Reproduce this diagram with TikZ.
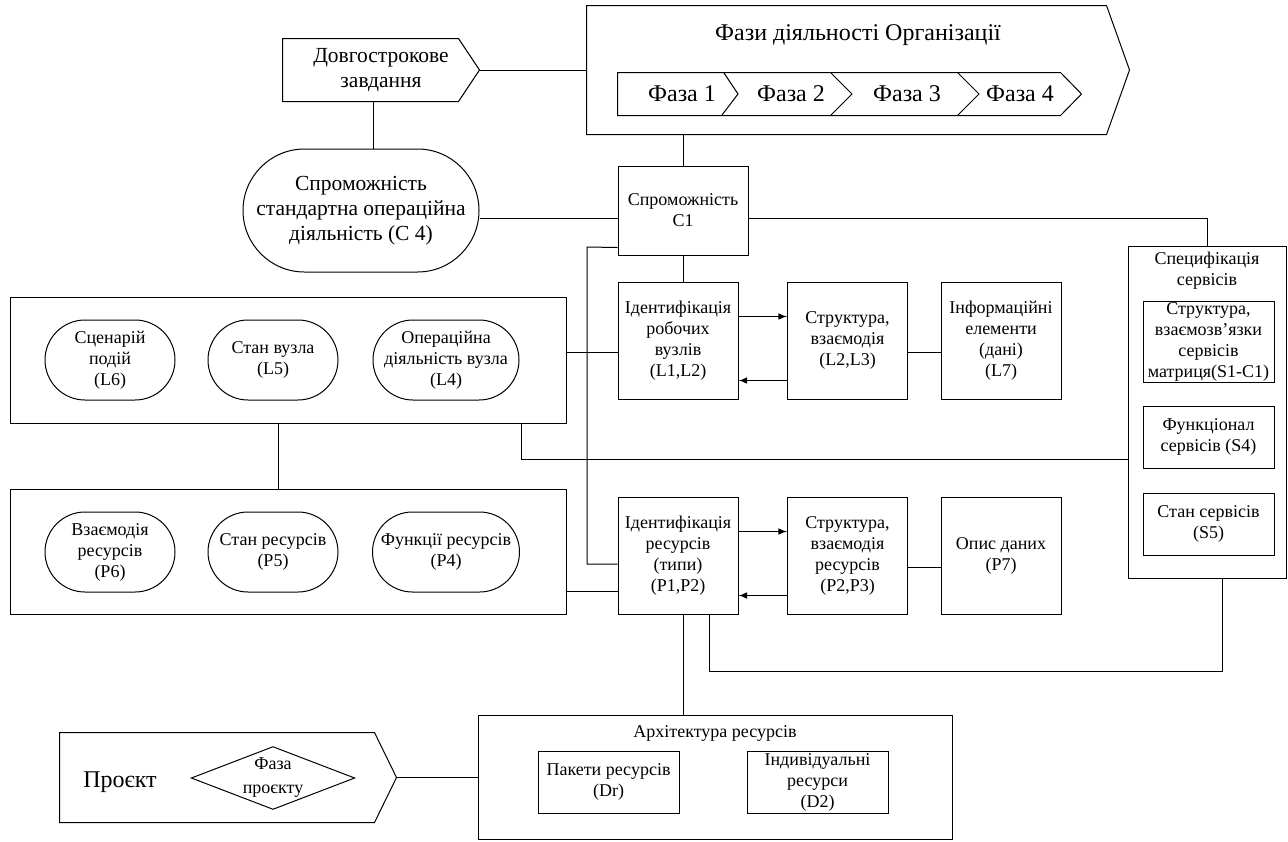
\documentclass[tikz,border=0pt]{standalone}
\usepackage{fontspec}
\setmainfont{Liberation Serif}
\usetikzlibrary{shapes.geometric}

\begin{document}
\begin{tikzpicture}
		[x=0.5pt,y=-0.5pt,line width=0.5pt,>=latex,
		%Styles
		box/.style={draw,rectangle,align=center,inner sep=1pt,font=\fontsize{9}{10.5}\selectfont},
		group box/.style={draw,rectangle,inner sep=0pt},
		pill/.style={draw,rectangle,rounded corners=20pt,minimum width=65pt,minimum height=40pt,align=center,inner sep=1pt,font=\fontsize{9}{10.5}\selectfont},
		big text/.style={inner sep=0pt,font=\fontsize{12}{14}\selectfont},
		mid text/.style={align=center,font=\fontsize{10.75}{12.5}\selectfont},
		blank/.style={inner sep=0pt}
		]
		\useasboundingbox (0,0) rectangle (1288,841);

		%Top: task, organisation phases
		\node[mid text,blank,minimum width=98pt,minimum height=31pt] (task) at (381,70) {Довгострокове\\завдання};
		\draw (task.north west) -- ([xshift=-10.5pt]task.north east) -- (task.east)
			-- ([xshift=-10.5pt]task.south east) -- (task.south west) -- cycle;

		\node[blank,minimum width=271pt,minimum height=64pt] (org) at (858,70) {};
		\draw (org.north west) -- ([xshift=-11.5pt]org.north east) -- (org.east)
			-- ([xshift=-11.5pt]org.south east) -- (org.south west) -- cycle;
		\node[big text] (title) at (858,35) {Фази діяльності Організації};

		\node[blank,minimum width=231.5pt,minimum height=21pt] (phases) at (849.5,94) {};
		\draw (phases.north west) -- ([xshift=-10.5pt]phases.north east) -- (phases.east)
			-- ([xshift=-10.5pt]phases.south east) -- (phases.south west) -- cycle;
		\draw (724,73) -- (738,94) -- (722,115);
		\draw (831,73) -- (852,94) -- (831,115);
		\draw (958,73) -- (979,94) -- (958,115);
		\node[big text] (f1) at (682,94) {Фаза 1};
		\node[big text] (f2) at (791,94) {Фаза 2};
		\node[big text] (f3) at (907,94) {Фаза 3};
		\node[big text] (f4) at (1020,94) {Фаза 4};

		%Capabilities
		\node[draw,mid text,rounded corners=30.75pt,minimum width=118pt,minimum height=61.5pt] (c4) at (361,210.5) {Спроможність\\стандартна операційна\\діяльність (С 4)};
		\node[box,minimum width=65pt,minimum height=44.5pt] (c1) at (683,210.5) {Спроможність\\C1};

		%Nodes (L)
		\node[group box,minimum width=278pt,minimum height=63pt] (lbox) at (288,360) {};
		\node[pill] (l6) at (110,360) {Сценарій\\подій\\(L6)};
		\node[pill] (l5) at (273,360) {Стан вузла\\(L5)};
		\node[pill,minimum width=73pt] (l4) at (446,360) {Операційна\\діяльність вузла\\(L4)};

		\node[box,minimum width=60pt,minimum height=58.5pt] (l1) at (678,340.5) {Ідентифікація\\робочих\\вузлів\\(L1,L2)};
		\node[box,minimum width=60pt,minimum height=58.5pt] (l23) at (847.5,340.5) {Структура,\\взаємодія\\(L2,L3)};
		\node[box,minimum width=60pt,minimum height=58.5pt] (l7) at (1001,340.5) {Інформаційні\\елементи\\(дані)\\(L7)};

		%Resources (P)
		\node[group box,minimum width=278pt,minimum height=62.5pt] (pbox) at (288,551.5) {};
		\node[pill] (p6) at (110,552) {Взаємодія\\ресурсів\\(P6)};
		\node[pill] (p5) at (273,552) {Стан ресурсів\\(P5)};
		\node[pill,minimum width=73.5pt] (p4) at (446,552) {Функції ресурсів\\(P4)};

		\node[box,minimum width=60pt,minimum height=58.5pt] (p1) at (678,555.5) {Ідентифікація\\ресурсів\\(типи)\\(P1,P2)};
		\node[box,minimum width=60pt,minimum height=58.5pt] (p23) at (847.5,555.5) {Структура,\\взаємодія\\ресурсів\\(P2,P3)};
		\node[box,minimum width=60pt,minimum height=58.5pt] (p7) at (1001,555.5) {Опис даних\\(P7)};

		%Services
		\node[group box,minimum width=79pt,minimum height=166pt] (spec) at (1207,412) {};
		\node[box,draw=none] (spect) at (1207,271) {Специфікація\\сервісів};
		\node[box,inner sep=0pt,minimum width=65.5pt,minimum height=40.5pt] (s1) at (1208.5,341.5) {Структура,\\взаємозв'язки\\сервісів\\матриця(S1-C1)};
		\node[box,minimum width=65.5pt,minimum height=31pt] (s4) at (1208.5,437) {Функціонал\\сервісів (S4)};
		\node[box,minimum width=65.5pt,minimum height=31pt] (s5) at (1208.5,524) {Стан сервісів\\(S5)};

		%Architecture, project
		\node[group box,minimum width=237pt,minimum height=62pt] (arch) at (715,777) {};
		\node[box,draw=none] (archt) at (715,733) {Архітектура ресурсів};
		\node[box,minimum width=70.5pt,minimum height=31pt] (dr) at (608.5,782) {Пакети ресурсів\\(Dr)};
		\node[box,inner sep=0pt,minimum width=70.5pt,minimum height=31pt] (d2) at (817.5,782.5) {Індивідуальні\\ресурси\\(D2)};

		\node[blank,minimum width=168pt,minimum height=44.5pt] (proj) at (228,777.5) {};
		\draw (proj.north west) -- ([xshift=-11pt]proj.north east) -- (proj.east)
			-- ([xshift=-11pt]proj.south east) -- (proj.south west) -- cycle;
		\node[big text] (projt) at (120,782) {Проєкт};
		\node[draw,diamond,aspect=2.6,inner sep=0pt,minimum width=81pt,minimum height=31pt,align=center,font=\fontsize{9}{12}\selectfont] (stage) at (273,778) {Фаза\\проєкту};

		%Links
		\path
			(task.east) edge (org.west)
			([xshift=-4pt]task.south) edge ([xshift=-4pt]task.south |- c4.north)
			([yshift=-4pt]c4.east) edge ([yshift=-4pt]c1.west)
			(c1.north) edge (c1.north |- org.south)
			(c1.south) edge (c1.south |- l1.north)
			([yshift=-6pt]l1.west) edge ([yshift=-6pt]l1.west -| lbox.east)
			([yshift=-6pt]l23.east) edge ([yshift=-6pt]l7.west)
			([xshift=-5pt]lbox.south) edge ([xshift=-5pt]pbox.north)
			([yshift=-18pt]p1.west) edge ([yshift=-18pt]p1.west -| pbox.east)
			([yshift=-6pt]p23.east) edge ([yshift=-6pt]p7.west)
			([xshift=2.5pt]p1.south) edge ([xshift=2.5pt]p1.south |- arch.north)
			(proj.east) edge (proj.east -| arch.west);

		\coordinate (bus) at (587,247);
		\draw ([yshift=-4pt]c1.east) -| (spec.north);
		\draw ([yshift=4pt]c1.south west) -- (bus) |- ([yshift=-4.25pt]p1.west);
		\draw ([xshift=116.5pt]lbox.south) |- ([yshift=-23.5pt]spec.west);
		\draw ([xshift=15.5pt]p1.south) -- ++(0,57) -| ([xshift=7.5pt]spec.south);

		\path[->]
			([yshift=12pt]l1.east) edge ([yshift=12pt]l23.west)
			([yshift=-20pt]l23.west) edge ([yshift=-20pt]l1.east)
			([yshift=12pt]p1.east) edge ([yshift=12pt]p23.west)
			([yshift=-20pt]p23.west) edge ([yshift=-20pt]p1.east);
	\end{tikzpicture}
\end{document}
